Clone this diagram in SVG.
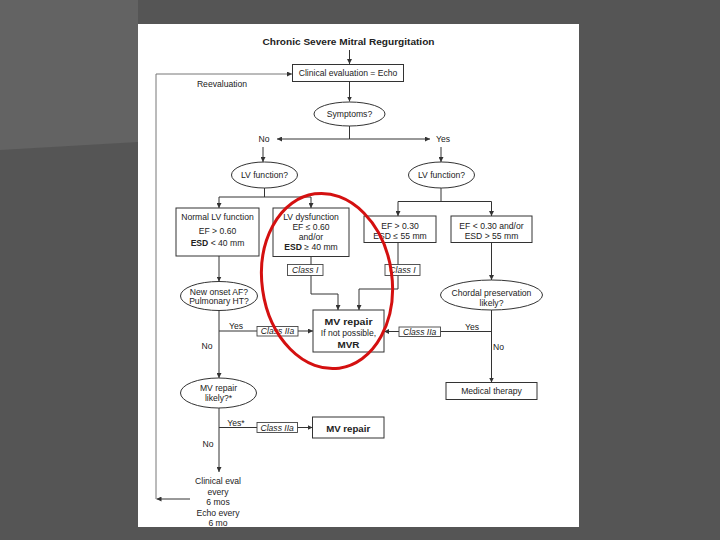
<svg xmlns="http://www.w3.org/2000/svg" width="720" height="540" viewBox="0 0 720 540">
<defs>
<style>
.t{font-family:"Liberation Sans",Arial,sans-serif;font-size:8.6px;fill:#222;text-anchor:middle}
.b{font-weight:bold}
.i{font-style:italic}
.box{fill:#fff;stroke:#333;stroke-width:1}
.lbl{fill:#fff;stroke:#444;stroke-width:0.9}
.c{fill:none;stroke:#333;stroke-width:1}
.fb{fill:none;stroke:#777;stroke-width:1}
</style>
<marker id="ah" viewBox="0 0 6 6" refX="6" refY="3" markerWidth="5" markerHeight="5" orient="auto">
<path d="M0,0 L6,3 L0,6 z" fill="#333"/>
</marker>
</defs>
<rect width="720" height="540" fill="#555"/>
<polygon points="0,0 138,0 138,142 0,150" fill="#636363"/>
<rect x="138" y="24" width="441" height="503" fill="#fff"/>

<g id="connectors">
<path class="c" d="M349.5,50 V64" marker-end="url(#ah)"/>
<path class="c" d="M349.5,81 V101.5" marker-end="url(#ah)"/>
<path class="c" d="M349.5,126 V139"/>
<path class="c" d="M349.5,139 H277" marker-end="url(#ah)"/>
<path class="c" d="M349.5,139 H430" marker-end="url(#ah)"/>
<path class="c" d="M263,147 V162" marker-end="url(#ah)"/>
<path class="c" d="M441,147 V162" marker-end="url(#ah)"/>
<path class="c" d="M264.5,188 V197 M219,197 H311"/>
<path class="c" d="M219,197 V208" marker-end="url(#ah)"/>
<path class="c" d="M311,197 V208" marker-end="url(#ah)"/>
<path class="c" d="M441,188 V201.5 M398,201.5 H491.5"/>
<path class="c" d="M398,201.5 V216" marker-end="url(#ah)"/>
<path class="c" d="M491.5,201.5 V216" marker-end="url(#ah)"/>
<path class="c" d="M219,256 V281.5" marker-end="url(#ah)"/>
<path class="c" d="M219,310.5 V378" marker-end="url(#ah)"/>
<path class="c" d="M219,331 H313" marker-end="url(#ah)"/>
<path class="c" d="M311,256.5 V294 H338 V310" marker-end="url(#ah)"/>
<path class="c" d="M398,242.5 V289 H359 V310" marker-end="url(#ah)"/>
<path class="c" d="M491.5,242.5 V280" marker-end="url(#ah)"/>
<path class="c" d="M491.5,310 V382.5" marker-end="url(#ah)"/>
<path class="c" d="M491.5,331.5 H384" marker-end="url(#ah)"/>
<path class="c" d="M219,408 V472" marker-end="url(#ah)"/>
<path class="c" d="M219,427.5 H312.5" marker-end="url(#ah)"/>
<path class="c" d="M190,499 H156.5" marker-end="url(#ah)"/>
<path class="fb" d="M156,499 V74 H292" marker-end="url(#ah)"/>
</g>

<g id="title"><text class="t b" x="348.5" y="44.5" font-size="10.5" textLength="172" lengthAdjust="spacingAndGlyphs">Chronic Severe Mitral Regurgitation</text></g>

<g id="clinical-eval">
<rect class="box" x="292.5" y="64.5" width="111" height="17"/>
<text class="t" x="348" y="76">Clinical evaluation = Echo</text>
</g>
<g id="reevaluation"><text class="t" x="222" y="87">Reevaluation</text></g>

<g id="symptoms">
<ellipse class="box" cx="349.5" cy="114" rx="35.5" ry="12"/>
<text class="t" x="349.5" y="117">Symptoms?</text>
</g>
<g id="no-top"><text class="t" x="264" y="142">No</text></g>
<g id="yes-top"><text class="t" x="443" y="142">Yes</text></g>

<g id="lv-func-left">
<ellipse class="box" cx="264.5" cy="175" rx="33" ry="13"/>
<text class="t" x="264.5" y="178">LV function?</text>
</g>
<g id="lv-func-right">
<ellipse class="box" cx="441.5" cy="175" rx="33" ry="13"/>
<text class="t" x="441.5" y="178">LV function?</text>
</g>

<g id="normal-lv">
<rect class="box" x="176" y="208" width="83" height="48"/>
<text class="t" x="217.5" y="220">Normal LV function</text>
<text class="t" x="217.5" y="234">EF &gt; 0.60</text>
<text class="t" x="217.5" y="246"><tspan class="b">ESD</tspan> &lt; 40 mm</text>
</g>

<g id="lv-dysfunction">
<rect class="box" x="273" y="208" width="76" height="48.5"/>
<text class="t" x="311" y="220">LV dysfunction</text>
<text class="t" x="311" y="230">EF ≤ 0.60</text>
<text class="t" x="311" y="240">and/or</text>
<text class="t" x="311" y="250"><tspan class="b">ESD</tspan> ≥ 40 mm</text>
</g>

<g id="ef-gt-030">
<rect class="box" x="364" y="216" width="72" height="26.5"/>
<text class="t" x="400" y="229">EF &gt; 0.30</text>
<text class="t" x="400" y="239">ESD ≤ 55 mm</text>
</g>

<g id="ef-lt-030">
<rect class="box" x="451" y="216" width="81" height="26.5"/>
<text class="t" x="491.5" y="229">EF &lt; 0.30 and/or</text>
<text class="t" x="491.5" y="239">ESD &gt; 55 mm</text>
</g>

<g id="class-i-left">
<rect class="lbl" x="287.5" y="264.5" width="35.5" height="11"/>
<text class="t i" x="305.2" y="273">Class I</text>
</g>
<g id="class-i-right">
<rect class="lbl" x="385" y="264.5" width="35" height="11"/>
<text class="t i" x="402.5" y="273">Class I</text>
</g>

<g id="new-onset">
<ellipse class="box" cx="219" cy="296" rx="38.5" ry="14.5"/>
<text class="t" x="219" y="294.5">New onset AF?</text>
<text class="t" x="219" y="304">Pulmonary HT?</text>
</g>

<g id="chordal">
<ellipse class="box" cx="491.5" cy="295" rx="51" ry="15"/>
<text class="t" x="491.5" y="295.5">Chordal preservation</text>
<text class="t" x="491.5" y="306">likely?</text>
</g>

<g id="mv-repair-main">
<rect class="box" x="313" y="310" width="71" height="42"/>
<text class="t b" x="348.5" y="325" font-size="11" textLength="48" lengthAdjust="spacingAndGlyphs">MV repair</text>
<text class="t" x="348.5" y="336">If not possible,</text>
<text class="t b" x="348.5" y="347.5" font-size="11" textLength="22" lengthAdjust="spacingAndGlyphs">MVR</text>
</g>

<g id="class-iia-left">
<rect class="lbl" x="257" y="326.5" width="41" height="9.5"/>
<text class="t i" x="277.5" y="334.3">Class IIa</text>
</g>
<g id="class-iia-right">
<rect class="lbl" x="399" y="327" width="41.5" height="9.5"/>
<text class="t i" x="419.7" y="334.8">Class IIa</text>
</g>

<g id="yes-left"><text class="t" x="236" y="329">Yes</text></g>
<g id="no-left"><text class="t" x="207" y="349">No</text></g>
<g id="yes-right"><text class="t" x="472" y="329.5">Yes</text></g>
<g id="no-right"><text class="t" x="498.5" y="349.5">No</text></g>

<g id="medical-therapy">
<rect class="box" x="446" y="382.5" width="91" height="17"/>
<text class="t" x="491.5" y="394">Medical therapy</text>
</g>

<g id="mv-likely">
<ellipse class="box" cx="218.5" cy="393" rx="38" ry="15"/>
<text class="t" x="218.5" y="391">MV repair</text>
<text class="t" x="218.5" y="401">likely?*</text>
</g>

<g id="yes-star"><text class="t" x="236" y="426">Yes*</text></g>
<g id="no-bottom"><text class="t" x="208" y="447">No</text></g>

<g id="class-iia-bottom">
<rect class="lbl" x="257" y="422.5" width="40.5" height="10"/>
<text class="t i" x="277.2" y="430.6">Class IIa</text>
</g>

<g id="mv-repair-2">
<rect class="box" x="312.5" y="417" width="71.5" height="21" stroke-width="1.3"/>
<text class="t b" x="348.2" y="431.5" font-size="11" textLength="44" lengthAdjust="spacingAndGlyphs">MV repair</text>
</g>

<g id="clinical-eval-6mo">
<text class="t" x="218" y="484">Clinical eval</text>
<text class="t" x="218" y="495">every</text>
<text class="t" x="218" y="505">6 mos</text>
<text class="t" x="218" y="516">Echo every</text>
<text class="t" x="218" y="526">6 mo</text>
</g>

<g id="highlight">
<ellipse cx="327" cy="281" rx="65" ry="88" transform="rotate(-8 327 281)" fill="none" stroke="#d41010" stroke-width="3"/>
</g>
</svg>
